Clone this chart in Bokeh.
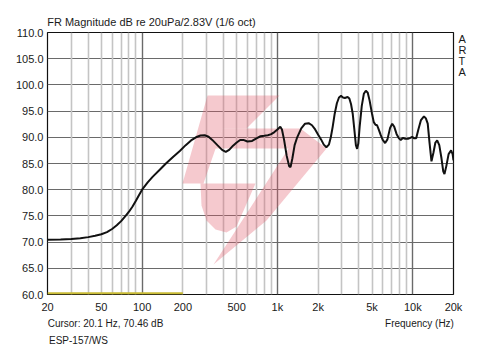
import math
from bokeh.plotting import figure
from bokeh.models import (FixedTicker, Grid, Range1d, PrintfTickFormatter, ColumnDataSource,
                          LinearAxis, LinearScale)
from bokeh.embed import file_html
from bokeh.resources import INLINE

# ---------------- data ----------------
freq_hz = [20, 25, 30, 35, 40, 45, 50, 55, 60, 65, 70, 75, 80, 85, 90, 95, 100, 110, 120, 135, 150,
           170, 190, 210, 230, 250, 270, 290, 310, 330, 360, 390, 415, 440, 470, 500, 530, 560, 600,
           650, 700, 750, 800, 850, 900, 950, 1000, 1050, 1080, 1120, 1170, 1220, 1250, 1290, 1340,
           1400, 1500, 1600, 1700, 1800, 1900, 2000, 2100, 2200, 2300, 2400, 2480, 2560, 2650, 2750,
           2850, 2950, 3050, 3150, 3300, 3400, 3500, 3600, 3700, 3800, 3880, 3960, 4050, 4200, 4350,
           4500, 4650, 4800, 5000, 5150, 5300, 5450, 5600, 5800, 6000, 6250, 6500, 6800, 7050, 7300,
           7600, 7900, 8150, 8500, 8800, 9200, 9600, 9900, 10200, 10600, 11000, 11500, 12100, 12500,
           12900, 13300, 13750, 14200, 14700, 15150, 15700, 16300, 16800, 17150, 17700, 18400, 19200,
           19700, 20000]
spl_db = [70.46, 70.5, 70.6, 70.75, 70.95, 71.2, 71.5, 71.9, 72.5, 73.2, 74.0, 74.9, 75.8, 76.8, 77.9,
          79.0, 80.0, 81.4, 82.5, 83.8, 85.0, 86.3, 87.4, 88.5, 89.4, 90.0, 90.35, 90.4, 90.1, 89.5,
          88.5, 87.6, 87.2, 87.6, 88.4, 89.0, 89.5, 89.5, 89.2, 89.3, 89.8, 90.2, 90.3, 90.4, 90.6,
          91.0, 91.5, 92.0, 91.5, 89.5, 86.5, 84.5, 84.3, 86.0, 88.5, 90.0, 91.7, 92.6, 92.7, 92.3,
          91.5, 90.5, 89.6, 88.6, 88.1, 88.6, 90.0, 92.0, 94.5, 96.5, 97.6, 97.9, 97.6, 97.5, 97.7,
          97.4, 96.3, 94.5, 91.5, 88.5, 87.8, 88.8, 92.0, 96.0, 98.3, 98.9, 98.5, 97.0, 94.5, 92.9,
          92.4, 92.3, 91.5, 90.4, 89.5, 88.9, 89.6, 91.8, 92.6, 92.0, 90.6, 89.8, 89.5, 89.9, 89.7,
          89.7, 89.9, 90.1, 89.8, 89.8, 91.5, 93.3, 94.0, 93.6, 92.6, 89.0, 85.4, 87.0, 89.0, 89.4,
          88.5, 86.0, 83.5, 83.0, 84.5, 86.8, 87.5, 86.8, 85.6]

band_freq = [20, 200]       # yellow range marker at the bottom
band_level = 60.2

x_ticks = [20, 50, 100, 200, 500, 1000, 2000, 5000, 10000, 20000]
x_tick_labels = ["20", "50", "100", "200", "500", "1k", "2k", "5k", "10k", "20k"]
y_ticks = [60, 65, 70, 75, 80, 85, 90, 95, 100, 105, 110]
decade_lines = [100, 1000, 10000]
minor_lines = [30, 40, 50, 60, 70, 80, 90, 200, 300, 400, 500, 600, 700, 800, 900,
               2000, 3000, 4000, 5000, 6000, 7000, 8000, 9000]

title_text = "FR Magnitude dB re 20uPa/2.83V (1/6 oct)"
cursor_text = "Cursor: 20.1 Hz, 70.46 dB"
name_text = "ESP-157/WS"
xlabel_text = "Frequency (Hz)"
side_letters = ["A", "R", "T", "A"]

# watermark logo outline (pixel layout of the picture, converted below)
logo_top = [(207, 95), (279, 95), (246, 128), (222, 128), (203, 183), (182, 183)]
logo_mid = [(222, 128), (300, 128), (326, 148), (266, 220), (213, 264), (241, 221),
            (288, 148), (215, 148)]
logo_bowl = [(200, 183), (255, 183), (236, 226), (226, 232), (215, 229), (206, 220), (201, 205)]

# ---------------- geometry ----------------
W, H = 500, 349
L, R, T, B = 47, 47, 32, 55
FW = W - L - R
FH = H - T - B
XMIN, XMAX, YMIN, YMAX = 20, 20000, 60, 110
FONT = "Liberation Sans"


def px_to_data(px, py):
    lx = math.log10(XMIN) + (px - L) / FW * (math.log10(XMAX) - math.log10(XMIN))
    dy = YMAX - (py - T) / FH * (YMAX - YMIN)
    return 10 ** lx, dy


p = figure(width=W, height=H, x_axis_type="log",
           x_range=Range1d(XMIN, XMAX), y_range=Range1d(YMIN, YMAX),
           output_backend="svg", toolbar_location=None,
           min_border_left=L, min_border_right=R, min_border_top=T, min_border_bottom=B)
p.background_fill_color = "white"
p.border_fill_color = "white"
p.outline_line_color = "#111111"
p.outline_line_width = 1.2

# pixel-like helper ranges for the text rows placed by axes
p.extra_x_ranges = {"row": Range1d(0, FW)}
p.extra_x_scales = {"row": LinearScale()}
p.extra_y_ranges = {"col": Range1d(0, FH)}
p.extra_y_scales = {"col": LinearScale()}

# axes
p.xaxis.ticker = FixedTicker(ticks=x_ticks)
p.xaxis.major_label_overrides = {t: s for t, s in zip(x_ticks, x_tick_labels)}
p.yaxis.ticker = FixedTicker(ticks=y_ticks)
p.yaxis.formatter = PrintfTickFormatter(format="%.1f")


def style_axis(ax, size="11px", standoff=4):
    ax.axis_line_color = None
    ax.major_tick_line_color = None
    ax.minor_tick_line_color = None
    ax.major_tick_out = 0
    ax.major_tick_in = 0
    ax.minor_tick_out = 0
    ax.minor_tick_in = 0
    ax.major_label_text_font = FONT
    ax.major_label_text_font_size = size
    ax.major_label_text_color = "#1a1a1a"
    ax.major_label_standoff = standoff


style_axis(p.xaxis[0], "11px", 6)
style_axis(p.yaxis[0], "11px", 4)

# title line above the frame
title_pos = [104]
title_ax = LinearAxis(x_range_name="row", ticker=FixedTicker(ticks=title_pos),
                      major_label_overrides={title_pos[0]: title_text})
style_axis(title_ax, "11px", 5)
p.add_layout(title_ax, "above")

# bottom text rows (cursor readout / frequency label, then device name)
row1_pos = [58, 372]
row1 = LinearAxis(x_range_name="row", ticker=FixedTicker(ticks=row1_pos),
                  major_label_overrides={row1_pos[0]: cursor_text, row1_pos[1]: xlabel_text})
style_axis(row1, "10px", 2)
p.add_layout(row1, "below")
row2_pos = [31]
row2 = LinearAxis(x_range_name="row", ticker=FixedTicker(ticks=row2_pos),
                  major_label_overrides={row2_pos[0]: name_text})
style_axis(row2, "10px", 3)
p.add_layout(row2, "below")

# right side letters
col_pos = [256, 245, 234, 223]
col = LinearAxis(y_range_name="col", ticker=FixedTicker(ticks=col_pos),
                 major_label_overrides={c: s for c, s in zip(col_pos, side_letters)})
style_axis(col, "11px", 5)
p.add_layout(col, "right")

# grids
p.xgrid.visible = False
p.ygrid.ticker = FixedTicker(ticks=y_ticks[1:-1])
p.ygrid.grid_line_color = "#6a6a6a"
p.ygrid.grid_line_width = 1.2
p.add_layout(Grid(dimension=0, ticker=FixedTicker(ticks=minor_lines),
                  grid_line_color="#c4c4c4", grid_line_width=1.6))
p.add_layout(Grid(dimension=0, ticker=FixedTicker(ticks=decade_lines),
                  grid_line_color="#6a6a6a", grid_line_width=1.4))

# watermark
xs, ys = [], []
for poly in (logo_top, logo_mid, logo_bowl):
    pts = [px_to_data(a, b) for a, b in poly]
    xs.append([q[0] for q in pts])
    ys.append([q[1] for q in pts])
p.patches(xs, ys, fill_color="#e05a6a", fill_alpha=0.33, line_color=None)

# yellow range marker
p.line(band_freq, [band_level, band_level], line_color="#c9bb34", line_width=2.2)

# response curve
src = ColumnDataSource(dict(f=freq_hz, db=spl_db))
p.line("f", "db", source=src, line_color="#111111", line_width=2.0)

open("out.html", "w").write(file_html(p, INLINE))
